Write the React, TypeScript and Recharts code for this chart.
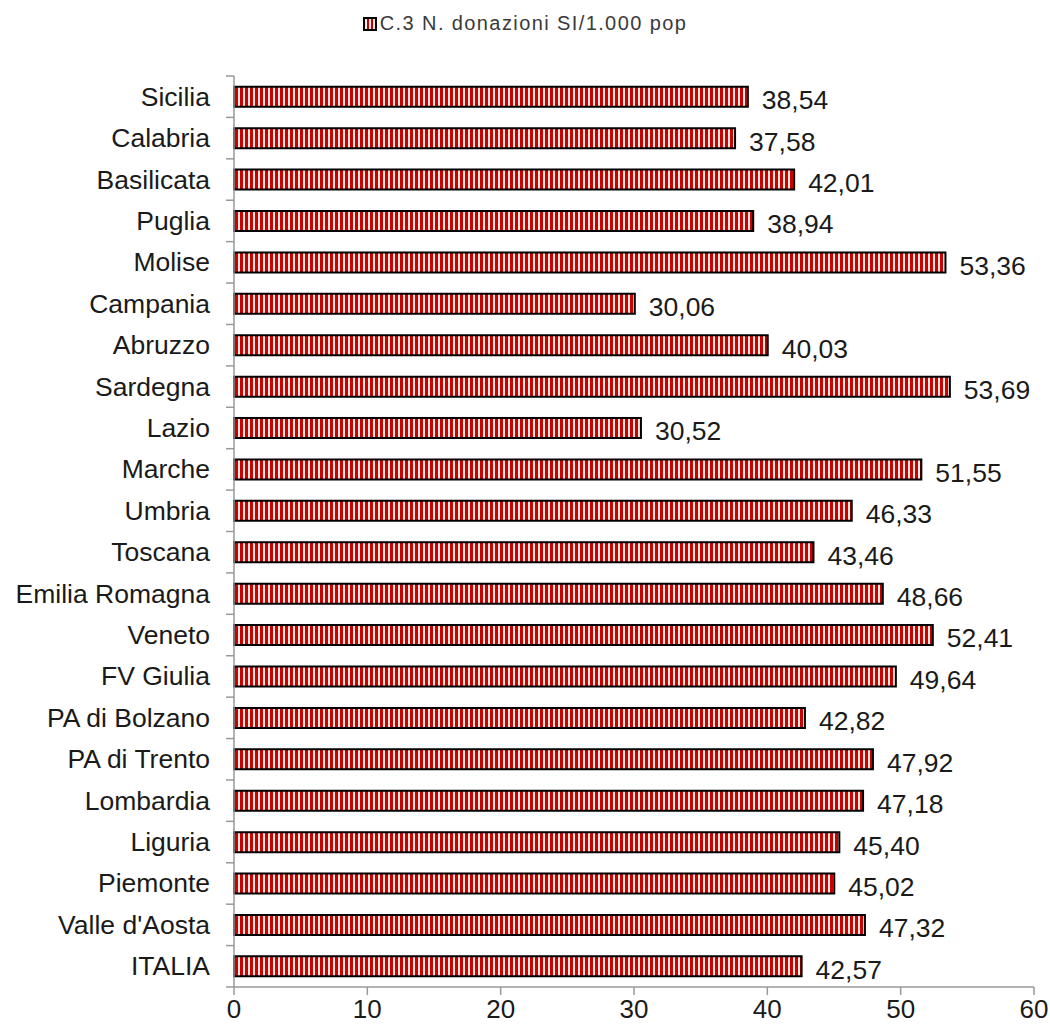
import { BarChart, Bar, XAxis, YAxis, LabelList } from 'recharts'

const regions = [
  'Sicilia', 'Calabria', 'Basilicata', 'Puglia', 'Molise', 'Campania', 'Abruzzo', 'Sardegna',
  'Lazio', 'Marche', 'Umbria', 'Toscana', 'Emilia Romagna', 'Veneto', 'FV Giulia',
  'PA di Bolzano', 'PA di Trento', 'Lombardia', 'Liguria', 'Piemonte', "Valle d'Aosta", 'ITALIA',
]
const donazioni = [
  38.54, 37.58, 42.01, 38.94, 53.36, 30.06, 40.03, 53.69, 30.52, 51.55, 46.33, 43.46,
  48.66, 52.41, 49.64, 42.82, 47.92, 47.18, 45.4, 45.02, 47.32, 42.57,
]
const xTicks = [0, 10, 20, 30, 40, 50, 60]
const seriesName = 'C.3 N. donazioni SI/1.000 pop'

const data = regions.map((name, i) => ({ name, value: donazioni[i] }))

const W = 1050
const H = 1030
const M = { top: 76, right: 16, bottom: 13, left: 0 }
const BAND = (H - M.top - M.bottom - 30) / regions.length
const FONT = 'Liberation Sans, Arial, sans-serif'

const fmt = (v: number) => v.toFixed(2).replace('.', ',')

function RegionTick({ x, y, payload, index }: any) {
  return (
    <g>
      <text x={x} y={y} dy={9} textAnchor="end" fontSize={26.5} fill="#1a1a1a" fontFamily={FONT}>
        {payload.value}
      </text>
      <line x1={x + 16} x2={x + 24} y1={y + BAND / 2} y2={y + BAND / 2} stroke="#999" strokeWidth={1.5} />
      {index === 0 && (
        <line x1={x + 16} x2={x + 24} y1={y - BAND / 2} y2={y - BAND / 2} stroke="#999" strokeWidth={1.5} />
      )}
    </g>
  )
}

function LegendBox() {
  return (
    <div style={{ position: 'absolute', left: 0, top: 12, width: W, display: 'flex',
      justifyContent: 'center', alignItems: 'center', fontFamily: FONT, fontSize: 20,
      letterSpacing: 1.4, color: '#3a3a3a' }}>
      <svg width={14} height={14} style={{ marginRight: 3 }}>
        <defs>
          <pattern id="stripesLegend" width={4} height={4} patternUnits="userSpaceOnUse">
            <rect width={4} height={4} fill="#cc0000" />
            <rect x={2} width={2} height={4} fill="#f3ebe0" />
          </pattern>
        </defs>
        <rect x={1} y={1} width={12} height={12} fill="url(#stripesLegend)" stroke="#000" strokeWidth={2} />
      </svg>
      <span>{seriesName}</span>
    </div>
  )
}

export default function App() {
  return (
    <div style={{ position: 'absolute', left: 0, top: 0, width: W, height: H, background: '#fff' }}>
      <LegendBox />
      <BarChart width={W} height={H} data={data} layout="vertical" margin={M} barCategoryGap="26%">
        <defs>
          <pattern id="stripes" width={5} height={10} patternUnits="userSpaceOnUse">
            <rect width={5} height={10} fill="#cc0000" />
            <rect x={3} width={2} height={10} fill="#f3ebe0" />
          </pattern>
        </defs>
        <XAxis type="number" domain={[0, 60]} ticks={xTicks} interval={0}
          axisLine={{ stroke: '#999', strokeWidth: 1.5 }} tickLine={{ stroke: '#999', strokeWidth: 1.5 }}
          tickSize={8} tickMargin={5}
          tick={{ fontSize: 26, fill: '#1a1a1a', fontFamily: FONT }} />
        <YAxis type="category" dataKey="name" width={234} interval={0}
          axisLine={{ stroke: '#999', strokeWidth: 1.5 }} tickLine={false} tickSize={0} tickMargin={24}
          tick={<RegionTick />} />
        <Bar dataKey="value" name={seriesName} fill="url(#stripes)" stroke="#000" strokeWidth={2}
          isAnimationActive={false}>
          <LabelList dataKey="value" position="right" offset={14} formatter={(v: any) => fmt(Number(v))}
            style={{ fontSize: 26.5, fill: '#1a1a1a', fontFamily: FONT }} dy={3} />
        </Bar>
      </BarChart>
    </div>
  )
}
